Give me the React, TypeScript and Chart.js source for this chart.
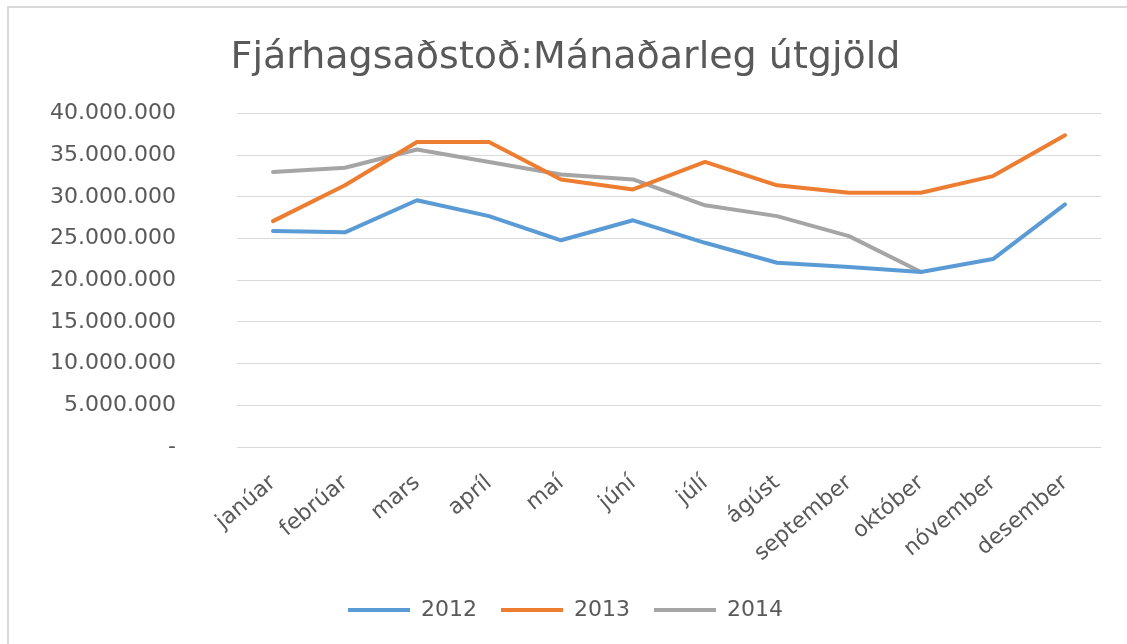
import React, { useEffect, useRef } from "react";
import { Chart, registerables } from "chart.js";

Chart.register(...registerables);

const titleText = "Fjárhagsaðstoð:Mánaðarleg útgjöld";
const months = [
  "janúar", "febrúar", "mars", "apríl", "maí", "júní",
  "júlí", "ágúst", "september", "október", "nóvember", "desember",
];
const series2012 = [25900000, 25750000, 29600000, 27700000, 24800000, 27200000, 24500000, 22100000, 21600000, 21000000, 22550000, 29100000];
const series2013 = [27100000, 31400000, 36600000, 36600000, 32100000, 30900000, 34200000, 31400000, 30500000, 30500000, 32500000, 37400000];
const series2014 = [33000000, 33500000, 35700000, 34200000, 32700000, 32100000, 29000000, 27700000, 25300000, 21000000, null, null];
const seriesNames = ["2012", "2013", "2014"];
const seriesColors = ["#5B9BD5", "#ED7D31", "#A5A5A5"];
const yMin = 0;
const yMax = 40000000;
const yStep = 5000000;

const FONT = "'DejaVu Sans', sans-serif";
const TEXT = "#595959";
const GRID = "#D9D9D9";

function fmt(v: number): string {
  if (v === 0) return "-";
  return String(v).replace(/\B(?=(\d{3})+(?!\d))/g, ".");
}

const framePlugin = {
  id: "frame",
  beforeDraw(chart: any) {
    const ctx = chart.ctx;
    ctx.save();
    ctx.fillStyle = "#D9D9D9";
    ctx.fillRect(7, 6, chart.width - 7, 2);
    ctx.fillRect(7, 6, 2, chart.height - 6);
    ctx.restore();
  },
};

export default function App() {
  const ref = useRef<HTMLCanvasElement | null>(null);

  useEffect(() => {
    document.body.style.margin = "0";
    const canvas = ref.current;
    if (!canvas) return;
    const data = [series2012, series2013, series2014];
    const chart = new Chart(canvas, {
      type: "line",
      data: {
        labels: months,
        datasets: data.map((d, i) => ({
          label: seriesNames[i],
          data: d,
          borderColor: seriesColors[i],
          backgroundColor: seriesColors[i],
          borderWidth: 4,
          borderCapStyle: "round",
          borderJoinStyle: "round",
          pointRadius: 0,
          pointHoverRadius: 0,
          tension: 0,
          fill: false,
          spanGaps: false,
        })),
      },
      options: {
        responsive: false,
        animation: false,
        layout: { padding: { left: 30, right: 26, top: 0, bottom: 13 } },
        plugins: {
          title: {
            display: true,
            text: titleText,
            color: TEXT,
            font: { family: FONT, size: 38, weight: "normal" },
            padding: { top: 35, bottom: 33 },
          },
          legend: {
            position: "bottom",
            labels: {
              color: TEXT,
              font: { family: FONT, size: 22 },
              usePointStyle: true,
              pointStyleWidth: 62,
              pointStyle: "line",
              padding: 24,
            },
          },
          tooltip: { enabled: false },
        },
        scales: {
          x: {
            offset: true,
            grid: { display: false, offset: true },
            border: { display: false },
            ticks: {
              color: TEXT,
              font: { family: FONT, size: 22 },
              autoSkip: false,
              minRotation: 40,
              maxRotation: 40,
              padding: 15,
            },
            afterFit: (scale: any) => {
              scale.height = 128;
            },
          },
          y: {
            min: yMin,
            max: yMax,
            grid: { color: GRID, lineWidth: 1, drawTicks: false },
            border: { display: false },
            ticks: {
              stepSize: yStep,
              color: TEXT,
              font: { family: FONT, size: 22 },
              padding: 61,
              callback: (v: any) => fmt(Number(v)),
            },
            afterFit: (scale: any) => {
              scale.width = 207;
            },
          },
        },
      },
      plugins: [framePlugin],
    });
    return () => chart.destroy();
  }, []);

  return (
    <div style={{ position: "fixed", left: 0, top: 0, width: 1127, height: 644, background: "#fff" }}>
      <canvas ref={ref} width={1127} height={644} style={{ position: "absolute", left: 0, top: 0 }} />
    </div>
  );
}
